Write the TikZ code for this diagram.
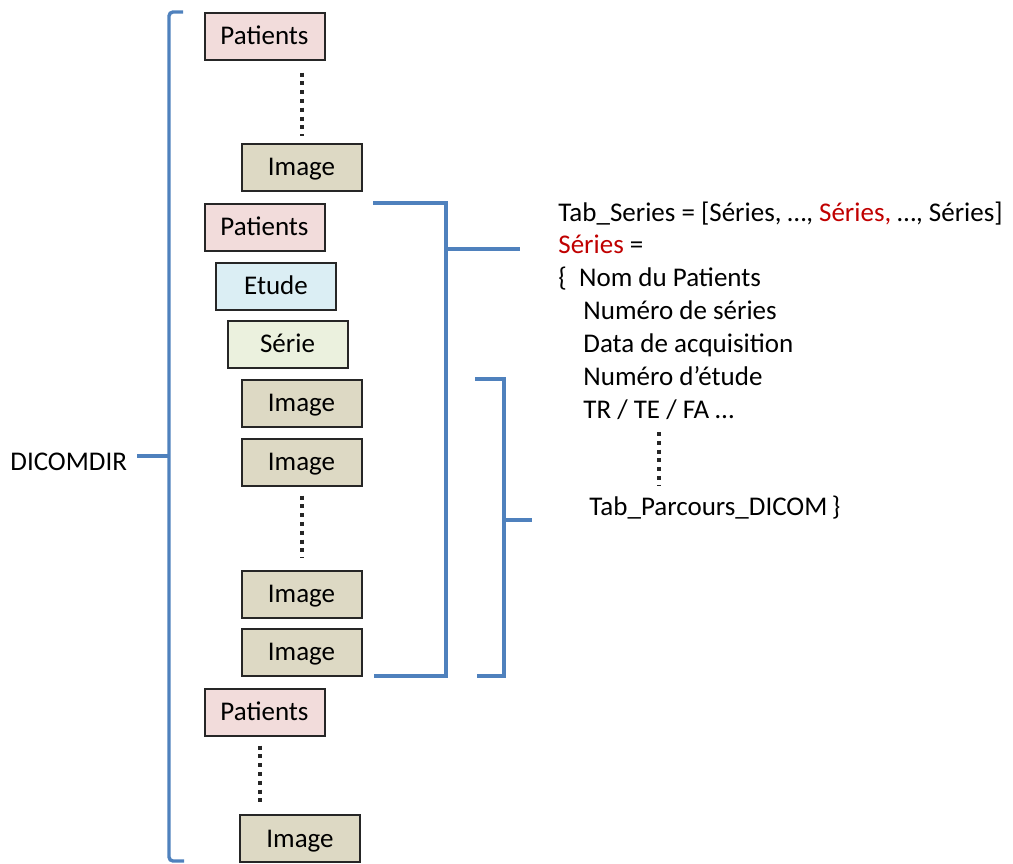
\documentclass[tikz,border=0pt]{standalone}
\usepackage{fontspec}
\setmainfont{Carlito}
\usepackage{xcolor}
\usepackage{tikz}
\usetikzlibrary{calc}
\definecolor{braceBlue}{HTML}{4F81BD}
\definecolor{serieRed}{HTML}{C00000}
\definecolor{boxLine}{HTML}{262626}
\definecolor{patFill}{HTML}{F2DCDB}
\definecolor{etuFill}{HTML}{DBEEF4}
\definecolor{serFill}{HTML}{EBF1DE}
\definecolor{imgFill}{HTML}{DDD9C4}

\begin{document}
\begin{tikzpicture}[x=0.5pt, y=-0.5pt,
  every node/.style={font=\fontsize{13.5}{16.5}\selectfont},
  box/.style={rectangle, draw=boxLine, line width=1pt, minimum width=60pt, minimum height=23.5pt, inner sep=0pt, text height=8.7pt, text depth=0pt},
  pat/.style={box, fill=patFill},
  etu/.style={box, fill=etuFill},
  ser/.style={box, fill=serFill},
  img/.style={box, fill=imgFill},
  txt/.style={anchor=base west, inner sep=0pt},
  brace/.style={draw=braceBlue, line width=1.7pt},
  dotline/.style={draw=boxLine, line width=2pt, dash pattern=on 2pt off 2.4pt}
]
\useasboundingbox (0,0) rectangle (1013,863);

% tree of the DICOMDIR entries
\node[pat] (pat1) at (264.5,36) {Patients};
\node[img] (img1) at (301.5,167) {Image};
\node[pat] (pat2) at (264.5,227) {Patients};
\node[etu] (etu) at (276,286) {Etude};
\node[ser] (ser) at (287.5,344) {Série};
\node[img] (img2) at (301.5,403) {Image};
\node[img] (img3) at (301.5,462) {Image};
\node[img] (img4) at (301.5,594) {Image};
\node[img] (img5) at (301.5,652) {Image};
\node[pat] (pat3) at (264.5,712) {Patients};
\node[img] (img6) at (300,838.5) {Image};
\node[anchor=west, inner sep=0pt, text height=8.7pt, text depth=0pt] (dicom) at (10,462) {DICOMDIR};

\draw[dotline] ($(img1.north |- pat1.south)+(0,12)$) -- ($(img1.north)+(0,-7)$);
\draw[dotline] ($(img3.south)+(0,9)$) -- ($(img4.north)+(0,-12)$);
\draw[dotline] ($(pat3.south)+(-5,9)$) -- ($(pat3.south |- img6.north)+(-5,-7)$);

% brackets
\draw[brace, rounded corners=2pt] (183,12) -- (169,12) -- (169,861) -- (184,861);
\draw[brace] (169,456) -- (137,456);
\draw[brace] (373,203) -- (446,203) -- (446,676) -- (374,676);
\draw[brace] (446,249) -- (520,249);
\draw[brace] (475,379) -- (504,379) -- (504,676) -- (477,676);
\draw[brace] (504,520) -- (532,520);

% description of one series
\node[txt] (tabs) at (558,221) {Tab\_Series = [Séries, …, \textcolor{serieRed}{Séries,} …, Séries]};
\node[txt] (ser1) at (558,253) {\textcolor{serieRed}{Séries} =};
\node[txt] (nom) at (558,286.5) {\{\ \ Nom du Patients};
\node[txt] (num) at (583,319) {Numéro de séries};
\node[txt] (acq) at (583,352) {Data de acquisition};
\node[txt] (etd) at (583,385) {Numéro d’étude};
\node[txt] (tr) at (583,418) {TR / TE / FA …};
\node[txt] (parc) at (589,515) {Tab\_Parcours\_DICOM\,\}};
\draw[dotline] ($(tr.base west)+(76,14)$) -- ($(parc.base west)+(70,-29)$);
\end{tikzpicture}
\end{document}
